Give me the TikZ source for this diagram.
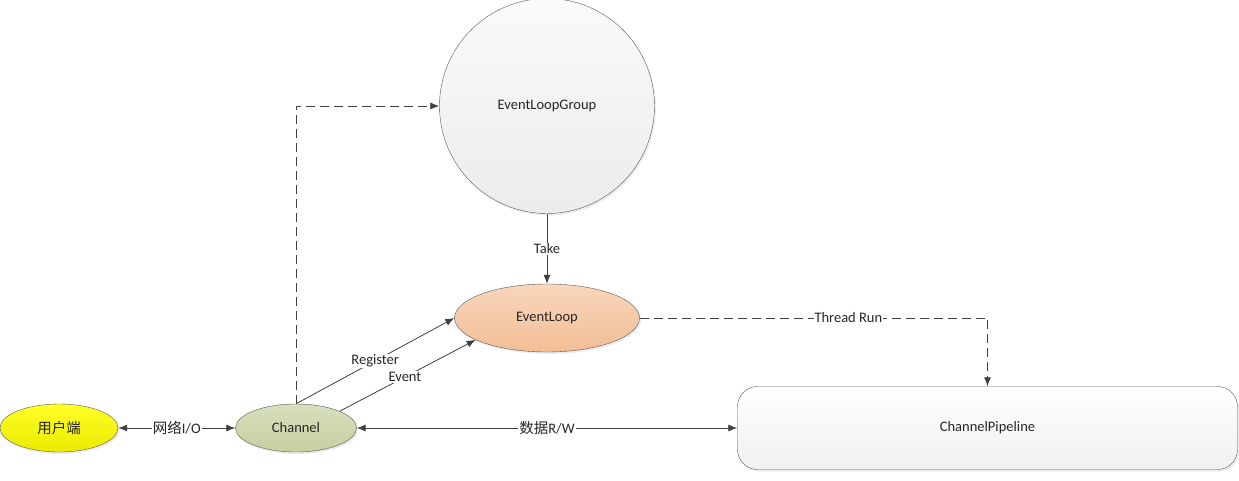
\documentclass[tikz,border=0pt]{standalone}
\usepackage{fontspec}
\setmainfont{Carlito}
\newfontfamily\cjk{Noto Sans CJK SC}
\usetikzlibrary{shapes.geometric,arrows.meta,shadows}

\begin{document}
\begin{tikzpicture}[x=1pt,y=-1pt,
    every node/.style={font=\fontsize{14.5}{16}\selectfont,text=black!85},
    blob/.style={ellipse,draw=black!65,inner sep=0pt,
      drop shadow={opacity=0.15,shadow xshift=1.5pt,shadow yshift=-2pt}},
    tip/.style={-{Latex[length=9pt,width=7pt]}},
    link/.style={draw=black!75,line width=0.8pt,tip},
    twoway/.style={link,{Latex[length=9pt,width=7pt]}-{Latex[length=9pt,width=7pt]}},
    dash line/.style={link,dash pattern=on 9pt off 5pt},
    lbl/.style={fill=white,inner sep=1pt}]
  \useasboundingbox (0,0) rectangle (1239,480);
  % shapes
  \node[blob,minimum width=118pt,minimum height=48pt,
    top color=yellow!85!white,bottom color=yellow!92!black] (user) at (59,428) {\cjk 用户端};
  \node[blob,minimum width=121pt,minimum height=48pt,
    top color={rgb,255:red,216;green,223;blue,189},bottom color={rgb,255:red,198;green,208;blue,160}] (chan) at (296,428) {Channel};
  \node[blob,circle,minimum size=215pt,
    top color={rgb,255:red,250;green,250;blue,250},bottom color={rgb,255:red,236;green,236;blue,236}] (grp) at (547,106) {EventLoopGroup};
  \node[blob,minimum width=185pt,minimum height=68pt,
    top color={rgb,255:red,249;green,214;blue,187},bottom color={rgb,255:red,242;green,190;blue,150}] (loop) at (547,318) {EventLoop};
  \node[draw=black!65,rounded corners=20pt,minimum width=500pt,minimum height=83pt,
    top color=white,bottom color={rgb,255:red,240;green,240;blue,240},
    drop shadow={opacity=0.15,shadow xshift=1.5pt,shadow yshift=-2pt}] (pipe) at (987.5,428) {ChannelPipeline};
  % connectors
  \draw[twoway] (user) -- (chan) node[midway,lbl] {{\cjk 网络}I/O};
  \draw[twoway] (chan) -- (pipe) node[midway,lbl] {{\cjk 数据}R/W};
  \draw[link] (grp.south) -- (loop.north) node[midway,lbl] {Take};
  \draw[link] (chan.north) -- (loop.west) node[pos=0.5,lbl] {Register};
  \draw[link] (chan.21) -- (loop.197) node[pos=0.48,lbl] {Event};
  \draw[dash line] (chan.north) -- (chan.north |- grp.west) -- (grp.west);
  \draw[dash line] (loop.east) -- (pipe.north |- loop.east) node[pos=0.6,lbl] {Thread Run} -- (pipe.north);
\end{tikzpicture}
\end{document}
